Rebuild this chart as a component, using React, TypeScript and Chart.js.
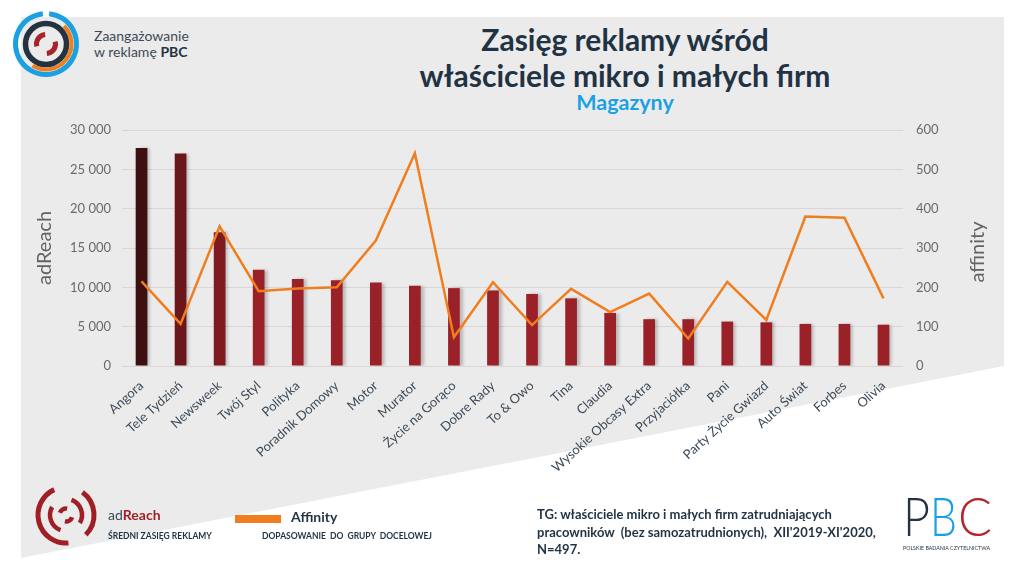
import React, { useEffect, useRef } from "react";
import { Chart, registerables } from "chart.js";

Chart.register(...registerables);

const categories = [
  "Angora", "Tele Tydzień", "Newsweek", "Twój Styl", "Polityka", "Poradnik Domowy",
  "Motor", "Murator", "Życie na Gorąco", "Dobre Rady", "To & Owo", "Tina", "Claudia",
  "Wysokie Obcasy Extra", "Przyjaciółka", "Pani", "Party Życie Gwiazd", "Auto Świat",
  "Forbes", "Olivia",
];

const adReach = [
  27700, 27000, 17000, 12250, 11050, 10900, 10600, 10200, 9900, 9600,
  9150, 8600, 6750, 5950, 5950, 5650, 5550, 5350, 5350, 5250,
];

const affinity = [
  215, 107, 355, 190, 197, 200, 319, 541, 73, 213,
  104, 196, 137, 184, 70, 214, 117, 380, 377, 172,
];

const barColors = [
  "#3e0f11", "#6a161a", "#7f1b20", "#9b2129", "#9b2129", "#9b2129", "#9b2129",
  "#9b2129", "#9b2129", "#9b2129", "#9b2129", "#9b2129", "#9b2129", "#9b2129",
  "#9b2129", "#9b2129", "#9b2129", "#9b2129", "#9b2129", "#9b2129",
];

const leftTicks = [0, 5000, 10000, 15000, 20000, 25000, 30000];
const rightTicks = [0, 100, 200, 300, 400, 500, 600];

const fmtThousands = (v: number) =>
  String(Math.round(v)).replace(/\B(?=(\d{3})+(?!\d))/g, " ");

function arc(cx: number, cy: number, r: number, a0: number, a1: number) {
  const p = (a: number) => {
    const t = ((a - 90) * Math.PI) / 180;
    return [cx + r * Math.cos(t), cy + r * Math.sin(t)];
  };
  const [x0, y0] = p(a0);
  const [x1, y1] = p(a1);
  const span = (a1 - a0 + 360) % 360;
  const large = span > 180 ? 1 : 0;
  return `M ${x0.toFixed(2)} ${y0.toFixed(2)} A ${r} ${r} 0 ${large} 1 ${x1.toFixed(2)} ${y1.toFixed(2)}`;
}

const barShadow = {
  id: "barShadow",
  beforeDatasetDraw(chart: any, args: any) {
    if (args.index === 0) {
      const c = chart.ctx;
      c.save();
      c.shadowColor = "rgba(0,0,0,0.22)";
      c.shadowOffsetX = 3;
      c.shadowOffsetY = 0;
      c.shadowBlur = 3;
    }
  },
  afterDatasetDraw(chart: any, args: any) {
    if (args.index === 0) chart.ctx.restore();
  },
};

const rightTitle = {
  id: "rightTitle",
  afterDraw(chart: any) {
    const c = chart.ctx;
    const area = chart.chartArea;
    c.save();
    c.translate(978, (area.top + area.bottom) / 2 + 4);
    c.rotate(-Math.PI / 2);
    c.textAlign = "center";
    c.textBaseline = "middle";
    c.font = "20px Lato";
    c.fillStyle = "#626262";
    c.fillText("affinity", 0, 0);
    c.restore();
  },
};

function ChartCanvas() {
  const ref = useRef<HTMLCanvasElement | null>(null);
  useEffect(() => {
    if (!ref.current) return;
    const tickFont = { family: "Lato", size: 13 };
    const chart = new Chart(ref.current, {
      type: "bar",
      data: {
        labels: categories,
        datasets: [
          {
            type: "bar",
            label: "adReach",
            data: adReach,
            backgroundColor: barColors,
            barPercentage: 0.3,
            categoryPercentage: 1,
            yAxisID: "y",
            order: 2,
          } as any,
          {
            type: "line",
            label: "Affinity",
            data: affinity,
            borderColor: "#f07d1e",
            borderWidth: 2.5,
            pointRadius: 0,
            tension: 0,
            fill: false,
            yAxisID: "y1",
            order: 1,
          } as any,
        ],
      },
      options: {
        animation: false,
        responsive: false,
        layout: { padding: { left: 22, right: 24, top: 130, bottom: 0 } },
        plugins: { legend: { display: false }, tooltip: { enabled: false } },
        scales: {
          x: {
            grid: { display: false },
            border: { display: false },
            ticks: {
              autoSkip: false,
              minRotation: 42,
              maxRotation: 42,
              color: "#3b4a58",
              font: tickFont,
              padding: 4,
            },
            afterFit: (s: any) => {
              s.height = 210;
            },
          },
          y: {
            position: "left",
            min: leftTicks[0],
            max: leftTicks[leftTicks.length - 1],
            afterBuildTicks: (s: any) => {
              s.ticks = leftTicks.map((v) => ({ value: v }));
            },
            ticks: {
              color: "#6a6a6a",
              font: tickFont,
              padding: 11,
              callback: (v: any) => fmtThousands(Number(v)),
            },
            grid: { color: "#dcd5d5", drawTicks: false, lineWidth: 1 },
            border: { display: false },
            title: {
              display: true,
              text: "adReach",
              color: "#626262",
              font: { family: "Lato", size: 20 },
              padding: { top: 11, bottom: 0 },
            },
            afterFit: (s: any) => {
              s.width = 100;
            },
          },
          y1: {
            position: "right",
            min: rightTicks[0],
            max: rightTicks[rightTicks.length - 1],
            afterBuildTicks: (s: any) => {
              s.ticks = rightTicks.map((v) => ({ value: v }));
            },
            ticks: {
              color: "#6a6a6a",
              font: tickFont,
              padding: 13,
              callback: (v: any) => String(v),
            },
            grid: { display: false, drawTicks: false },
            border: { display: false },
            afterFit: (s: any) => {
              s.width = 97;
            },
          },
        },
      } as any,
      plugins: [barShadow, rightTitle],
    });
    return () => chart.destroy();
  }, []);
  return (
    <canvas
      ref={ref}
      width={1024}
      height={576}
      style={{ position: "absolute", left: 0, top: 0, width: 1024, height: 576 }}
    />
  );
}

const abs = (style: React.CSSProperties): React.CSSProperties => ({
  position: "absolute",
  whiteSpace: "pre",
  lineHeight: 1.2,
  ...style,
});

export default function App() {
  const red = "#a01f25";
  return (
    <div
      style={{
        position: "absolute",
        left: 0,
        top: 0,
        width: 1024,
        height: 576,
        overflow: "hidden",
        background: "#ffffff",
        fontFamily: "Lato, 'Open Sans', sans-serif",
      }}
    >
      <div
        style={{
          position: "absolute",
          inset: 0,
          background: "#ebebeb",
          clipPath: "polygon(21px 17px, 1004px 17px, 1004px 366px, 21px 558px)",
        }}
      />
      {/* top-left logo */}
      <svg width={100} height={100} style={{ position: "absolute", left: 0, top: 0 }}>
        <path d={arc(46, 44, 30.5, 6, 354)} stroke="#1ba1e2" strokeWidth={5} fill="none" />
        <path d={arc(46, 44, 25.5, 45, 212)} stroke="#f07d1e" strokeWidth={4} fill="none" />
        <circle cx={46} cy={44} r={20.5} stroke="#24333f" strokeWidth={5.5} fill="none" />
        <path d={arc(46, 44, 9.5, 255, 355)} stroke="#a8242a" strokeWidth={5} fill="none" />
        <path d={arc(46, 44, 9.5, 75, 175)} stroke="#a8242a" strokeWidth={5} fill="none" />
      </svg>
      <div style={abs({ left: 94, top: 27.5, fontSize: 14, color: "#3d4a56" })}>Zaangażowanie</div>
      <div style={abs({ left: 94, top: 43.5, fontSize: 14, color: "#3d4a56" })}>
        w reklamę <b style={{ color: "#24333f" }}>PBC</b>
      </div>

      {/* title */}
      <div
        style={abs({
          left: 325,
          width: 600,
          top: 20.5,
          textAlign: "center",
          fontSize: 30,
          fontWeight: 700,
          color: "#1f3344",
        })}
      >
        Zasięg reklamy wśród
      </div>
      <div
        style={abs({
          left: 325,
          width: 600,
          top: 56.5,
          textAlign: "center",
          fontSize: 30,
          fontWeight: 700,
          color: "#1f3344",
        })}
      >
        właściciele mikro i małych firm
      </div>
      <div
        style={abs({
          left: 325,
          width: 600,
          top: 89.5,
          textAlign: "center",
          fontSize: 21.5,
          fontWeight: 700,
          color: "#1ba1e2",
        })}
      >
        Magazyny
      </div>

      <ChartCanvas />

      {/* bottom-left logo */}
      <svg width={110} height={80} style={{ position: "absolute", left: 20, top: 478 }}>
        <g fill="none" stroke={red} strokeWidth={5}>
          <path d={arc(46, 37, 28, 175, 335)} />
          <path d={arc(46, 37, 28, 36, 135)} />
          <path d={arc(46, 37, 16, 200, 300)} strokeWidth={4.5} />
          <path d={arc(46, 37, 16, 20, 120)} strokeWidth={4.5} />
          <path d={arc(46, 37, 6.5, 290, 10)} strokeWidth={4.5} />
          <path d={arc(46, 37, 6.5, 110, 190)} strokeWidth={4.5} />
        </g>
      </svg>
      <div style={abs({ left: 108, top: 507, fontSize: 14, color: "#3b4a58" })}>
        ad<span style={{ color: red, fontWeight: 700 }}>Reach</span>
      </div>
      <div style={abs({ left: 108, top: 530.5, fontSize: 8.5, fontWeight: 700, color: "#1f3344" })}>
        ŚREDNI ZASIĘG REKLAMY
      </div>
      <div style={{ position: "absolute", left: 235, top: 515, width: 46, height: 8, background: "#f07d1e" }} />
      <div style={abs({ left: 291, top: 509, fontSize: 14, fontWeight: 700, color: "#1f3344" })}>Affinity</div>
      <div style={abs({ left: 262, top: 530.5, fontSize: 8.5, fontWeight: 700, color: "#1f3344" })}>
        DOPASOWANIE  DO  GRUPY  DOCELOWEJ
      </div>

      {/* TG note */}
      <div style={abs({ left: 537, top: 506, fontSize: 13, fontWeight: 700, color: "#1f3344", lineHeight: "17.5px" })}>
        {"TG: właściciele mikro i małych firm zatrudniających\npracowników  (bez samozatrudnionych),  XII'2019-XI'2020,\nN=497."}
      </div>

      {/* PBC logo */}
      <svg width={110} height={70} style={{ position: "absolute", left: 900, top: 490 }}>
        <text x={3} y={46} fontFamily="Lato" fontWeight={300} fontSize={54} fill="#24333f" textLength={27} lengthAdjust="spacingAndGlyphs">P</text>
        <text x={30} y={46} fontFamily="Lato" fontWeight={300} fontSize={54} fill="#1ba1e2" textLength={27} lengthAdjust="spacingAndGlyphs">B</text>
        <text x={58} y={46} fontFamily="Lato" fontWeight={300} fontSize={54} fill="#b5242a" textLength={34} lengthAdjust="spacingAndGlyphs">C</text>
        <text x={3} y={60} fontFamily="Lato" fontSize={5.6} fill="#24333f" textLength={87} lengthAdjust="spacingAndGlyphs">POLSKIE BADANIA CZYTELNICTWA</text>
      </svg>
    </div>
  );
}
